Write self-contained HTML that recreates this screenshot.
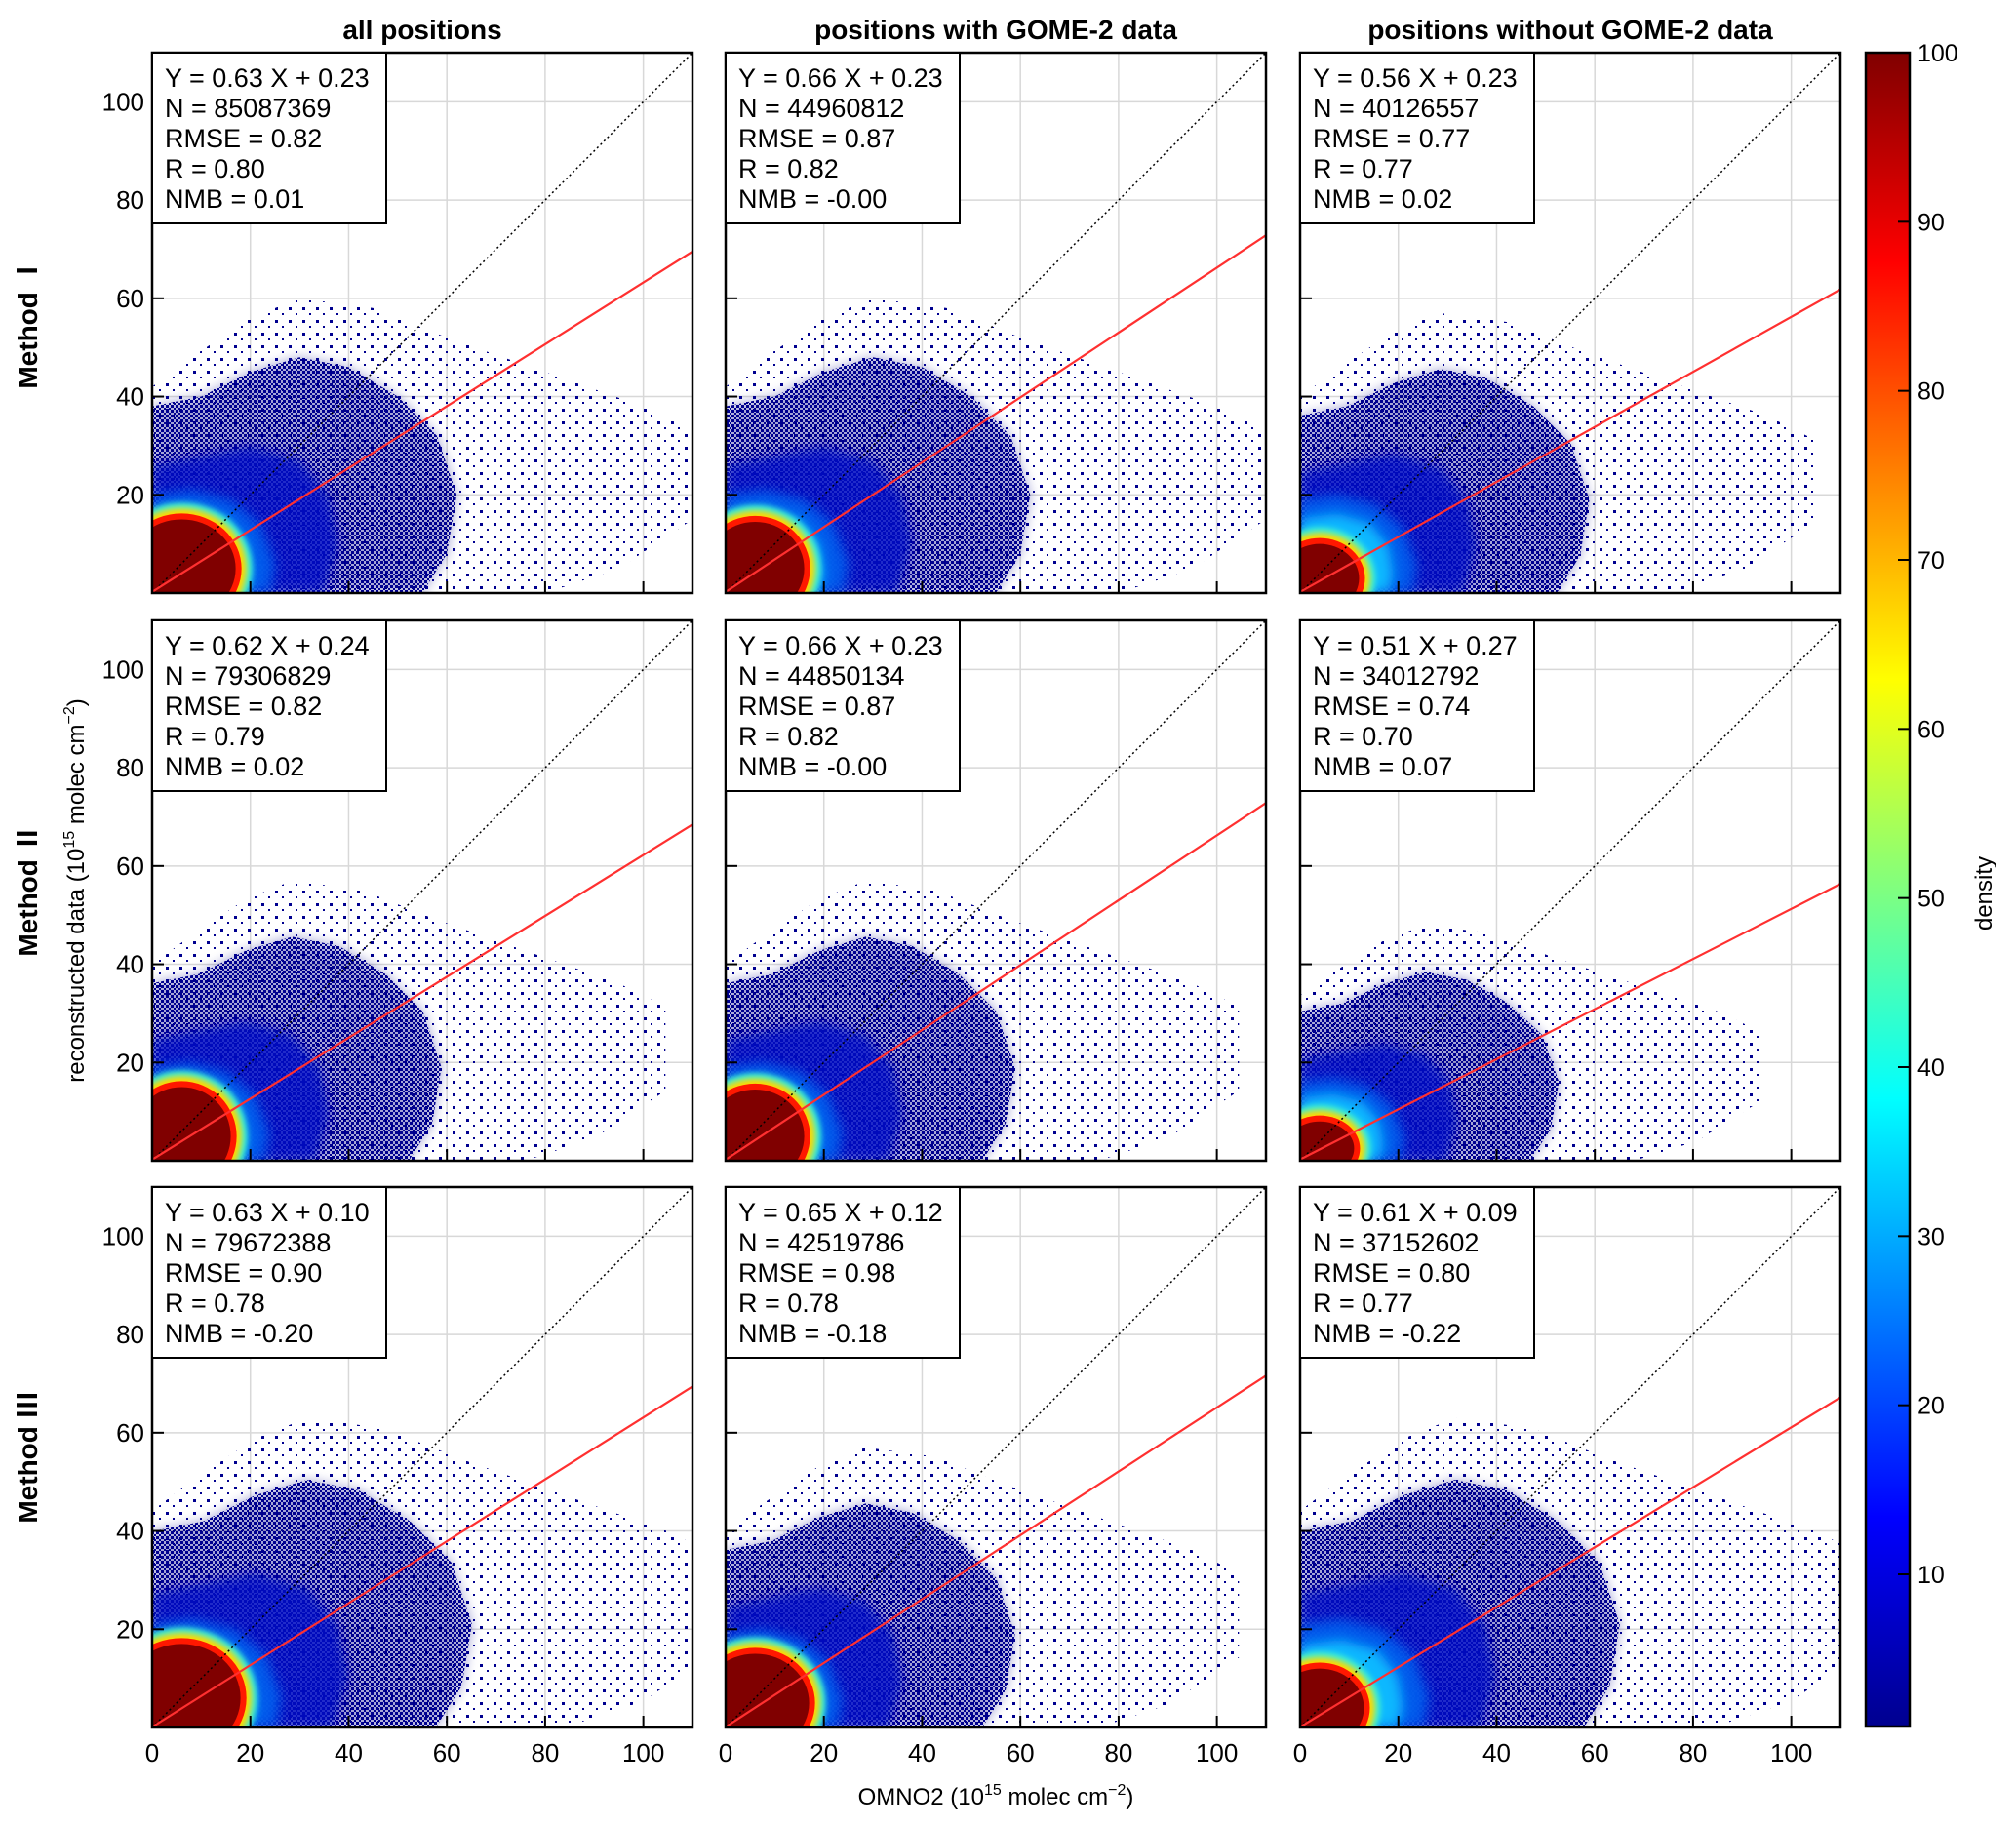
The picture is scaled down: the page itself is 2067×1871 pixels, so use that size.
<!DOCTYPE html>
<html><head><meta charset="utf-8"><style>
body{margin:0;background:#fff}
svg text{font-family:"Liberation Sans","Noto Sans CJK JP",sans-serif}
</style></head><body>
<svg id="chart" xmlns="http://www.w3.org/2000/svg" width="2067" height="1866" viewBox="0 0 2067 1866">
<defs>
<pattern id="sparse" width="14" height="13" patternUnits="userSpaceOnUse"><rect x="2" y="3" width="3" height="3" fill="#00008f"/><rect x="9" y="9" width="2" height="2" fill="#00008f"/></pattern>
<pattern id="dense" width="5" height="5" patternUnits="userSpaceOnUse"><rect x="0" y="0" width="3" height="3" fill="#00008f"/><rect x="3" y="3" width="2" height="2" fill="#00008f"/></pattern>
<filter id="blur" x="-20%" y="-20%" width="140%" height="140%"><feGaussianBlur stdDeviation="6"/></filter>
<filter id="blur2" x="-20%" y="-20%" width="140%" height="140%"><feGaussianBlur stdDeviation="3"/></filter>
<linearGradient id="jet" x1="0" y1="1" x2="0" y2="0">
<stop offset="0" stop-color="#00008f"/><stop offset="0.125" stop-color="#0000ff"/><stop offset="0.375" stop-color="#00ffff"/><stop offset="0.625" stop-color="#ffff00"/><stop offset="0.875" stop-color="#ff0000"/><stop offset="1" stop-color="#800000"/>
</linearGradient>
</defs>
<g id="root"></g>
</svg>
<script>
const colTitles=["all positions","positions with GOME-2 data","positions without GOME-2 data"];
const rowTitles=["Method Ⅰ","Method Ⅱ","Method Ⅲ"];
const statsEq=["Y = 0.63 X + 0.23","Y = 0.66 X + 0.23","Y = 0.56 X + 0.23","Y = 0.62 X + 0.24","Y = 0.66 X + 0.23","Y = 0.51 X + 0.27","Y = 0.63 X + 0.10","Y = 0.65 X + 0.12","Y = 0.61 X + 0.09"];
const statsN=["85087369","44960812","40126557","79306829","44850134","34012792","79672388","42519786","37152602"];
const statsRMSE=["0.82","0.87","0.77","0.82","0.87","0.74","0.90","0.98","0.80"];
const statsR=["0.80","0.82","0.77","0.79","0.82","0.70","0.78","0.78","0.77"];
const statsNMB=["0.01","-0.00","0.02","0.02","-0.00","0.07","-0.20","-0.18","-0.22"];
const fitSlope=[0.63,0.66,0.56,0.62,0.66,0.51,0.63,0.65,0.61];
const fitIntercept=[0.23,0.23,0.23,0.24,0.23,0.27,0.10,0.12,0.09];
const coreCx=[6,6,4,6,6,4,6,6,4];
const coreCy=[5,5,3,5,5,2.5,6,5,4];
const coreRx=[11,10,8,10,10,7,12,11,9];
const coreRy=[10,9.5,7,10,9.5,5.5,11,10,8];
const cloudSx=[1,1,0.95,0.95,0.95,0.85,1.05,0.95,1.05];
const cloudSy=[1,1,0.95,0.95,0.95,0.8,1.05,0.95,1.05];
const sparseShape=[[0,0],[0,42],[8,48],[20,56],[30,60],[45,58],[60,52],[80,45],[100,38],[110,33],[110,15],[95,5],[80,0]];
const navyShape=[[0,0],[0,38],[10,40],[20,45],[30,48],[40,46],[50,40],[58,32],[62,20],[60,8],[55,0]];
const blueShape=[[0,0],[0,26],[10,28],[20,30],[30,27],[36,20],[38,10],[35,0]];
const lblueShape=[[0,0],[0,20],[8,21],[16,19],[22,14],[25,6],[24,0]];
const cyanShape=[[0,0],[0,16],[8,17],[15,15],[19,10],[20,4],[19,0]];
const axisTicks=[20,40,60,80,100];
const xTickLabels=["0","20","40","60","80","100"];
const cbTicks=[10,20,30,40,50,60,70,80,90,100];

const NS="http://www.w3.org/2000/svg";
const root=document.getElementById('root');
function mk(tag,attrs,parent,text){const e=document.createElementNS(NS,tag);for(const k in attrs)e.setAttribute(k,attrs[k]);if(text!==undefined)e.textContent=text;(parent||root).appendChild(e);return e;}
const lefts=[156,744,1333], tops=[54,636,1217], W=554, H=554, DMAX=110;

for(let r=0;r<3;r++)for(let c=0;c<3;c++){
  const i=r*3+c, L=lefts[c], T=tops[r];
  const sx=v=>L+v/DMAX*W, sy=v=>T+H-v/DMAX*H;
  const g=mk('g',{});
  
  
  const cp=mk('clipPath',{id:'cp'+i},g); mk('rect',{x:L,y:T,width:W,height:H},cp);
  axisTicks.forEach(t=>{
    const gx=mk('line',{x1:sx(t),x2:sx(t),y1:T,y2:T+H,stroke:'#d8d8d8','stroke-width':1.5},g);
    
    const gy=mk('line',{x1:L,x2:L+W,y1:sy(t),y2:sy(t),stroke:'#d8d8d8','stroke-width':1.5},g);
    
  });
  const dg=mk('g',{'clip-path':'url(#cp'+i+')'},g);
  
  const poly=(shape,fill,extra)=>{const p=mk('polygon',Object.assign({points:shape.map(q=>sx(q[0]*cloudSx[i])+','+sy(q[1]*cloudSy[i])).join(' '),fill:fill},extra||{}),dg);return p;};
  poly(sparseShape,'url(#sparse)');
  poly(navyShape,'url(#dense)');
  poly(navyShape,'#00008f',{opacity:0.35,filter:'url(#blur)'});
  poly(blueShape,'#0008c8',{opacity:0.8,filter:'url(#blur)'});
  poly(lblueShape,'#0060f0',{opacity:0.9,filter:'url(#blur)'});
  poly(cyanShape,'#10b8ff',{filter:'url(#blur)'});
  const ell=(dr,fill,f)=>{const e=mk('ellipse',{cx:sx(coreCx[i]),cy:sy(coreCy[i]),rx:(coreRx[i]+dr)/DMAX*W,ry:(coreRy[i]+dr)/DMAX*H,fill:fill},dg);if(f)e.setAttribute('filter','url(#blur2)');};
  ell(3.4,'#40f0d0',true);ell(2.2,'#ffd800',true);ell(1.2,'#ff1800');ell(0,'#800000');
  const d1=mk('line',{x1:sx(0),y1:sy(0),x2:sx(DMAX),y2:sy(DMAX),stroke:'#000','stroke-width':1.5,'stroke-dasharray':'2 3'},g);
  
  const fl=mk('line',{x1:sx(0),y1:sy(fitIntercept[i]),x2:sx(DMAX),y2:sy(fitSlope[i]*DMAX+fitIntercept[i]),stroke:'#ff3030','stroke-width':2.2,'clip-path':'url(#cp'+i+')'},g);
  
  axisTicks.forEach(t=>{
    mk('line',{x1:sx(t),x2:sx(t),y1:T+H,y2:T+H-12,stroke:'#000','stroke-width':2},g);
    mk('line',{x1:L,x2:L+12,y1:sy(t),y2:sy(t),stroke:'#000','stroke-width':2},g);
  });
  const fr=mk('rect',{x:L,y:T,width:W,height:H,fill:'none',stroke:'#000','stroke-width':2.5},g);
  
  const sb=mk('g',{},g);
  mk('rect',{x:L,y:T,width:240,height:175,fill:'#fff',stroke:'#000','stroke-width':2},sb);
  const lines=[statsEq[i],'N = '+statsN[i],'RMSE = '+statsRMSE[i],'R = '+statsR[i],'NMB = '+statsNMB[i]];
  lines.forEach((s,k)=>{const t=mk('text',{x:L+13,y:T+35+k*31,'font-size':27,fill:'#000'},sb,s);});
  if(c===0) axisTicks.forEach(t=>{const tl=mk('text',{x:L-8,y:sy(t)+9,'font-size':26,'text-anchor':'end'},g,String(t));});
  if(r===2) xTickLabels.forEach(s=>{const tl=mk('text',{x:sx(+s),y:T+H+35,'font-size':26,'text-anchor':'middle'},g,s);});
}
colTitles.forEach((s,c)=>{const t=mk('text',{x:lefts[c]+W/2,y:40,'font-size':28,'font-weight':'bold','text-anchor':'middle'},root,s);});
rowTitles.forEach((s,r)=>{const y=tops[r]+H/2;const t=mk('text',{x:38,y:y,'font-size':28,'font-weight':'bold','text-anchor':'middle',transform:'rotate(-90 38 '+y+')'},root,s);});
{const y=tops[1]+H/2;const t=mk('text',{x:86,y:y,'font-size':24,'text-anchor':'middle',transform:'rotate(-90 86 '+y+')'},root);t.innerHTML='reconstructed data (10<tspan font-size="16" dy="-10">15</tspan><tspan dy="10"> molec cm</tspan><tspan font-size="16" dy="-10">−2</tspan><tspan dy="10">)</tspan>';}
{const t=mk('text',{x:lefts[1]+W/2,y:1850,'font-size':24,'text-anchor':'middle'},root);t.innerHTML='OMNO2 (10<tspan font-size="16" dy="-10">15</tspan><tspan dy="10"> molec cm</tspan><tspan font-size="16" dy="-10">−2</tspan><tspan dy="10">)</tspan>';}
const cbX=1913,cbW=45,cbTop=54,cbBot=1770,cbMin=1,cbMax=100;
const cy=v=>cbBot-(v-cbMin)/(cbMax-cbMin)*(cbBot-cbTop);
const cb=mk('g',{});
mk('rect',{x:cbX,y:cbTop,width:cbW,height:cbBot-cbTop,fill:'url(#jet)',stroke:'#000','stroke-width':2.5},cb);
cbTicks.forEach(v=>{
  if(v<100) mk('line',{x1:cbX+cbW-12,x2:cbX+cbW,y1:cy(v),y2:cy(v),stroke:'#000','stroke-width':2},cb);
  const t=mk('text',{x:cbX+cbW+8,y:cy(v)+9,'font-size':25},cb,String(v));
});
{const t=mk('text',{x:2042,y:916,'font-size':24,'text-anchor':'middle',transform:'rotate(-90 2042 916)'},root,'density');}
</script>
</body></html>
